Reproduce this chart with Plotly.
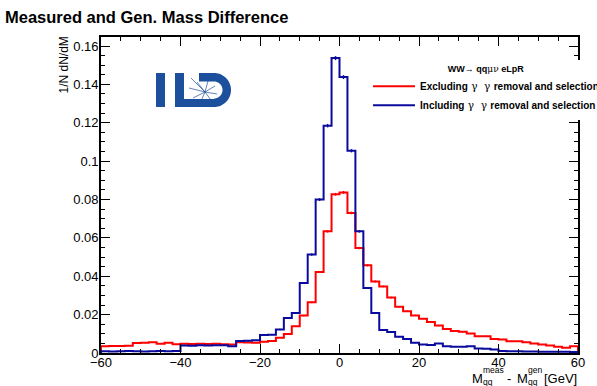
import numpy as np
import plotly.graph_objects as go

# ---------------- data ----------------
X_MIN, X_MAX, BIN_W = -60, 60, 2
bin_lo = list(range(X_MIN, X_MAX, BIN_W))

excluding = [
    0.0035, 0.0036, 0.0037, 0.0038, 0.0052, 0.0053, 0.0056, 0.0048, 0.0053, 0.0045,
    0.0048, 0.0047, 0.0048, 0.0047, 0.0048, 0.0045, 0.0044, 0.0056, 0.0055, 0.0053,
    0.0058, 0.0063, 0.0080, 0.0099, 0.0139, 0.0195, 0.0264, 0.0422, 0.0634, 0.0827,
    0.0837, 0.0730, 0.0547, 0.0457, 0.0373, 0.0347, 0.0289, 0.0241, 0.0217, 0.0196,
    0.0179, 0.0162, 0.0143, 0.0125, 0.0115, 0.0111, 0.0101, 0.0087, 0.0087, 0.0073,
    0.0070, 0.0061, 0.0061, 0.0056, 0.0049, 0.0044, 0.0039, 0.0032, 0.0027, 0.0035,
]
including = [
    0.0009, 0.0008, 0.0009, 0.0010, 0.0009, 0.0008, 0.0009, 0.0010, 0.0009, 0.0011,
    0.0039, 0.0038, 0.0040, 0.0039, 0.0040, 0.0041, 0.0035, 0.0063, 0.0064, 0.0066,
    0.0094, 0.0095, 0.0123, 0.0182, 0.0209, 0.0365, 0.0513, 0.0800, 0.1185, 0.1537,
    0.1438, 0.1054, 0.0634, 0.0339, 0.0209, 0.0120, 0.0110, 0.0085, 0.0073, 0.0053,
    0.0044, 0.0042, 0.0049, 0.0035, 0.0033, 0.0033, 0.0035, 0.0023, 0.0022, 0.0018,
    0.0010, 0.0009, 0.0009, 0.0008, 0.0008, 0.0007, 0.0007, 0.0006, 0.0006, 0.0005,
]
# statistical (Poisson) error scale of the normalised histograms
ERR_SCALE = 7.0e-6

x_tick_vals = [-60, -40, -20, 0, 20, 40, 60]
y_tick_vals = [0, 0.02, 0.04, 0.06, 0.08, 0.10, 0.12, 0.14, 0.16]
y_tick_text = ["0", "0.02", "0.04", "0.06", "0.08", "0.1", "0.12", "0.14", "0.16"]
Y_MAX = 0.1647

NB = "\u00a0"
GAM = ("<span style='font-family:DejaVu Serif;font-weight:normal;font-size:10.5px'>"
       f"{NB}γ{NB}{NB}γ{NB}</span>")
series = [
    (f"Excluding{GAM}removal and selection", excluding, "#ff0000"),
    (f"Including{GAM}removal and selection", including, "#0a0a9c"),
]
legend_header = ("WW→ qq<span style='font-family:DejaVu Serif;font-weight:normal'>μν</span> eLpR")

# ---------------- geometry ----------------
W, H = 597, 386
PL, PR, PT, PB = 101, 578, 37, 353
FONT = "Liberation Sans, Arial, Helvetica, sans-serif"


def px(xp):
    return (xp - PL) / (PR - PL)


def py(yp):
    return (PB - yp) / (PB - PT)


fig = go.Figure()

edges = np.array(bin_lo + [X_MAX], dtype=float)
centers = edges[:-1] + BIN_W / 2
for name, vals, col in series:
    v = np.array(vals)
    xs = np.concatenate([[edges[0]], edges, [edges[-1]]])
    ys = np.concatenate([[0.0], v, [v[-1], 0.0]])
    fig.add_trace(go.Scatter(
        x=xs, y=ys, mode="lines", line=dict(color=col, width=2, shape="hv"),
        name=name, hoverinfo="skip"))
    fig.add_trace(go.Scatter(
        x=centers, y=v, mode="markers", marker=dict(size=0.1, color=col),
        error_y=dict(type="data", array=np.sqrt(v * ERR_SCALE), color=col,
                     thickness=1.5, width=0),
        showlegend=False, hoverinfo="skip"))

axis_common = dict(
    showgrid=False, zeroline=False, showline=True, linecolor="black", linewidth=1.6,
    mirror="ticks", ticks="inside", ticklen=9, tickwidth=1.2, tickcolor="black",
    tickfont=dict(family=FONT, size=13, color="black"),
)
fig.update_xaxes(range=[X_MIN, X_MAX], tickvals=x_tick_vals, ticklabelstandoff=-3,
                 minor=dict(ticks="inside", dtick=5, ticklen=4.5, tickwidth=1.2,
                            tickcolor="black"),
                 **axis_common)
fig.update_yaxes(range=[0, Y_MAX], tickvals=y_tick_vals, ticktext=y_tick_text,
                 ticklabelstandoff=-2,
                 minor=dict(ticks="inside", dtick=0.005, ticklen=4.5, tickwidth=1.2,
                            tickcolor="black"),
                 **axis_common)

# ---------------- annotations ----------------
ann = []
# y-axis title (ROOT style, aligned to top of axis)
ann.append(dict(text="1/N dN/dM", x=px(64), y=py(35), xref="paper", yref="paper",
                xanchor="center", yanchor="top", textangle=-90, showarrow=False,
                font=dict(family=FONT, size=12, color="black")))
# x-axis title pieces (stacked sub/superscripts as in ROOT)
xt = [
    ("M", 470, 378, 13),
    ("meas", 481, 369.5, 8.5),
    ("qq", 481, 382, 8.5),
    ("-", 505, 378, 13),
    ("M", 515, 378, 13),
    ("gen", 526, 369.5, 8.5),
    ("qq", 526, 382, 8.5),
    ("[GeV]", 542, 378, 13),
]
for t, x0, y0, s in xt:
    ann.append(dict(text=t, x=px(x0), y=py(y0), xref="paper", yref="paper",
                    xanchor="left", yanchor="middle", showarrow=False,
                    font=dict(family=FONT, size=s, color="black")))

# ---------------- ILD logo ----------------
LOGO = "#1c4f9c"
shapes = []


def rect(x0, y0, x1, y1):
    shapes.append(dict(type="rect", xref="paper", yref="paper",
                       x0=px(x0), x1=px(x1), y0=py(y1), y1=py(y0),
                       fillcolor=LOGO, line=dict(width=0), layer="above"))


rect(156, 73, 165, 107)      # I
rect(175, 73, 184, 107)      # L vertical
rect(175, 99, 214, 107)      # L foot / D bottom
rect(199, 73, 214, 81.5)     # D top
# D bow
th = np.linspace(-np.pi / 2, np.pi / 2, 40)
cx, cy = 214, 90
outer = [(cx + 17 * np.cos(t), cy + 17 * np.sin(t)) for t in th]
inner = [(cx + 8.5 * np.cos(t), cy + 8.5 * np.sin(t)) for t in th[::-1]]
pts = outer + inner
path = "M" + " L".join(f"{px(a):.5f},{py(b):.5f}" for a, b in pts) + " Z"
shapes.append(dict(type="path", xref="paper", yref="paper", path=path,
                   fillcolor=LOGO, line=dict(width=0), layer="above"))
# detector tracks
tracks = [(-14, -14), (-16, -4), (-12, 6), (-4, 9), (6, 8), (10, -6), (3, -11), (12, 2), (-8, -10)]
ox, oy = 205, 92
for dx, dy in tracks:
    shapes.append(dict(type="line", xref="paper", yref="paper",
                       x0=px(ox), y0=py(oy), x1=px(ox + dx), y1=py(oy + dy),
                       line=dict(color=LOGO, width=0.7), layer="above"))

fig.update_layout(
    width=W, height=H,
    margin=dict(l=PL, r=W - PR, t=PT, b=H - PB, autoexpand=False),
    paper_bgcolor="white", plot_bgcolor="white",
    title=dict(text="Measured and Gen. Mass Difference", x=5 / W, xanchor="left",
               xref="container", y=1 - 17 / H, yanchor="middle",
               font=dict(family=FONT, size=16.5, color="black", weight="bold")),
    legend=dict(x=px(368), y=py(60), xanchor="left", yanchor="top",
                bgcolor="white", borderwidth=0, itemwidth=42,
                font=dict(family=FONT, size=10.0, color="black", weight="bold"),
                title=dict(text=legend_header, side="top center",
                           font=dict(family=FONT, size=9, color="black", weight="bold")),
                tracegroupgap=0),
    annotations=ann, shapes=shapes, showlegend=True,
)

fig.write_html("out.html")
